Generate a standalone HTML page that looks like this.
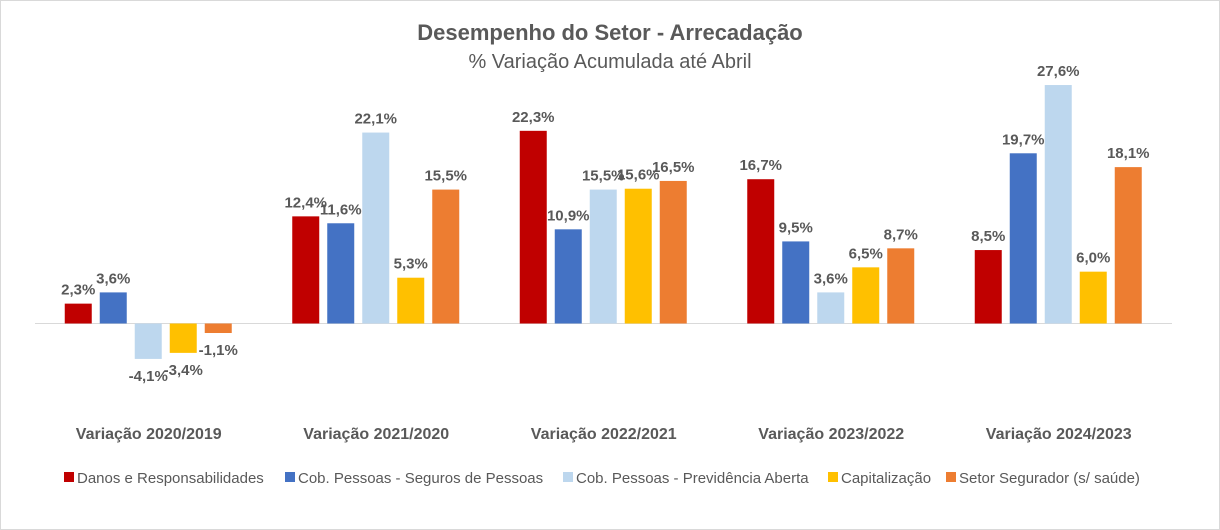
<!DOCTYPE html>
<html><head><meta charset="utf-8"><style>
body{margin:0;background:#fff}
svg{display:block;font-family:"Liberation Sans",sans-serif}
</style></head><body>
<svg id="chart" width="1220" height="530">
<rect x="0.5" y="0.5" width="1219" height="529" fill="#fff" stroke="#d9d9d9"/>
<text x="610" y="40" text-anchor="middle" font-size="22" font-weight="bold" fill="#595959">Desempenho do Setor - Arrecadação</text>
<text x="610" y="68" text-anchor="middle" font-size="20" fill="#595959">% Variação Acumulada até Abril</text>
<line x1="35" x2="1172" y1="323.5" y2="323.5" stroke="#d9d9d9"/>
<g id="bars"></g><g id="labels"></g><g id="cats"></g><g id="legend"></g>
</svg>
<script>
const categories=["Variação 2020/2019","Variação 2021/2020","Variação 2022/2021","Variação 2023/2022","Variação 2024/2023"];
const seriesNames=["Danos e Responsabilidades","Cob. Pessoas - Seguros de Pessoas","Cob. Pessoas - Previdência Aberta","Capitalização","Setor Segurador (s/ saúde)"];
const danos=[2.3,12.4,22.3,16.7,8.5];
const segPessoas=[3.6,11.6,10.9,9.5,19.7];
const previdencia=[-4.1,22.1,15.5,3.6,27.6];
const capitalizacao=[-3.4,5.3,15.6,6.5,6.0];
const setor=[-1.1,15.5,16.5,8.7,18.1];
const colors=["#c00000","#4472c4","#bdd7ee","#ffc000","#ed7d31"];
const series=[danos,segPessoas,previdencia,capitalizacao,setor];
const NS="http://www.w3.org/2000/svg";
const y0=323.5,k=8.64,left=35,gw=227.5;
function y(v){return y0-v*k;}
function x(ci,si){return left+ci*gw+gw/2-84+si*35;}
function mk(t,a,p){const e=document.createElementNS(NS,t);for(const n in a)e.setAttribute(n,a[n]);document.getElementById(p).appendChild(e);return e;}
series.forEach((s,si)=>{s.forEach((v,ci)=>{
const r=mk('rect',{x:x(ci,si),y:Math.min(y(v),y0),width:27,height:Math.abs(v*k),fill:colors[si]},'bars');


const ly=v>=0?y(v)-9:y(v)+22;
const t=mk('text',{x:x(ci,si)+13.5,y:ly,'text-anchor':'middle','font-size':15,'font-weight':'bold',fill:'#595959'},'labels');
t.textContent=v.toFixed(1).replace('.',',')+'%';


});});
categories.forEach((c,ci)=>{
const t=mk('text',{x:left+ci*gw+gw/2,y:439,'text-anchor':'middle','font-size':16,'font-weight':'bold',fill:'#595959'},'cats');
t.textContent=c;


});
const legendX=[64,285,563,828,946];
seriesNames.forEach((n,i)=>{
const lx=legendX[i];
const r=mk('rect',{x:lx,y:472,width:10,height:10,fill:colors[i]},'legend');


const t=mk('text',{x:lx+13,y:483,'font-size':15,fill:'#595959'},'legend');
t.textContent=n;


});
</script>
</body></html>
